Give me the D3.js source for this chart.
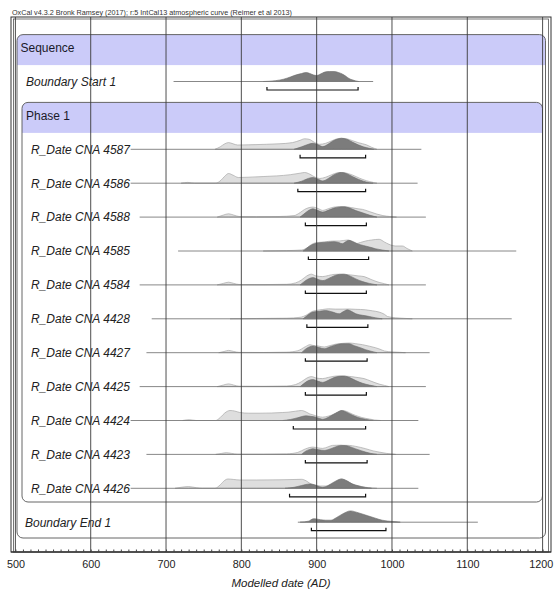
<!DOCTYPE html>
<html>
<head>
<meta charset="utf-8">
<script src="https://cdn.jsdelivr.net/npm/d3@7"></script>
<style>
  body { margin: 0; background: #fff; }
  svg { display: block; font-family: "Liberation Sans", Arial, Helvetica, sans-serif; }
</style>
</head>
<body>
<div id="chart"></div>
<script>
// rows of the OxCal multiplot, top to bottom
var rows = ["Sequence", "Boundary Start 1", "Phase 1",
    "R_Date CNA 4587", "R_Date CNA 4586", "R_Date CNA 4588", "R_Date CNA 4585",
    "R_Date CNA 4584", "R_Date CNA 4428", "R_Date CNA 4427", "R_Date CNA 4425",
    "R_Date CNA 4424", "R_Date CNA 4423", "R_Date CNA 4426", "Boundary End 1"];
var headerRows = ["Sequence", "Phase 1"];

// rows that carry a distribution
var distRows = ["Boundary Start 1", "R_Date CNA 4587", "R_Date CNA 4586", "R_Date CNA 4588",
    "R_Date CNA 4585", "R_Date CNA 4584", "R_Date CNA 4428", "R_Date CNA 4427",
    "R_Date CNA 4425", "R_Date CNA 4424", "R_Date CNA 4423", "R_Date CNA 4426", "Boundary End 1"];
var lineFrom = [710, 653, 653, 665, 716, 665, 681, 674, 665, 653, 674, 653, 875];
var lineTo   = [975, 1039, 1034, 1045, 1165, 1045, 1159, 1050, 1045, 1035, 1050, 1035, 1114];
var rangeFrom = [834, 878, 875, 885, 889, 885, 887, 885, 885, 869, 885, 864, 893];
var rangeTo   = [955, 965, 965, 966, 969, 966, 968, 967, 966, 965, 967, 965, 992];

// unmodelled (light) likelihoods, [year, density]
var unmodelled = [
  null,
  [[765,0],[772,2.5],[778,5.5],[783,6.7],[789,5.5],[795,4.3],[810,4.5],[833,5],[850,5.5],[868,6.7],[878,9],[884,10.5],[890,10],[897,7],[904,5],[912,6],[920,8.5],[927,10.5],[933,11],[940,10.5],[948,8.5],[956,6.5],[966,4.5],[973,2],[980,0]],
  [[720,0],[729,0.8],[738,0],[766,0],[773,3],[778,7],[783,9.7],[789,8],[796,5.7],[810,6],[830,6.7],[847,7.3],[865,8.5],[878,10],[884,10.7],[891,9],[898,6],[904,4.7],[912,6],[920,8.5],[927,10.3],[933,10.7],[940,10],[948,8],[957,5],[966,2.5],[975,0.8],[980,0]],
  [[768,0],[776,2],[783,3.3],[790,2],[797,0.6],[820,0.4],[850,0.6],[870,1.5],[878,4.5],[884,7.7],[890,9.5],[895,10],[902,8.5],[908,6.7],[916,8.5],[923,10],[930,10.3],[938,10.3],[946,9.5],[955,8.3],[961,7.7],[970,5.5],[980,3],[988,1.5],[997,0.6],[1006,0]],
  [[829,0],[860,0.4],[880,1],[887,3],[893,6.5],[899,8.3],[910,9],[921,10],[930,10],[941,11],[947,9],[952,7.3],[958,8.5],[965,10],[973,11],[983,11.7],[990,9],[996,6.7],[1005,5],[1014,5],[1020,2.5],[1027,0]],
  [[768,0],[776,1.5],[783,2.7],[790,1.5],[797,0.4],[830,0.3],[860,0.6],[872,2],[880,5],[887,9],[893,10.7],[899,9],[908,8.3],[916,9.5],[923,10.5],[930,10.7],[938,10.5],[945,10],[955,9],[963,8.3],[972,5.5],[983,2.5],[990,1.2],[996,0]],
  [[785,0],[820,0.3],[860,0.6],[878,1.5],[887,4],[893,7],[899,8.3],[908,9.3],[916,10],[925,9.7],[934,9.7],[943,9.8],[952,9.5],[965,9],[974,8],[983,6.7],[990,4.5],[994,2.3],[1005,1],[1015,0.5],[1027,0]],
  [[770,0],[777,1.2],[783,2.3],[790,1.2],[797,0.3],[830,0.2],[860,0.5],[875,2],[885,6],[891,8],[895,7.3],[902,6.7],[910,5.7],[917,7],[925,8.5],[934,9.3],[943,9.7],[952,9],[961,8],[970,6.5],[978,5],[984,3.5],[990,1.7],[1000,0.8],[1010,0.4],[1018,0]],
  [[768,0],[776,1.5],[783,2.7],[790,1.5],[797,0.4],[830,0.3],[860,0.6],[872,2],[880,5],[887,8.5],[893,10],[900,8.5],[908,8],[916,9.3],[923,10.3],[930,10.7],[938,10.5],[946,10],[955,9],[963,8],[972,5.5],[983,2.5],[990,1.2],[996,0]],
  [[722,0],[731,0.8],[740,0],[766,0],[772,3],[778,7.5],[785,10],[791,9.5],[798,8],[810,7.3],[825,7.3],[840,7.5],[855,8],[862,8.3],[872,9.3],[880,10],[886,8.5],[891,6.5],[895,5.7],[902,4],[908,3.3],[916,4.5],[925,7],[930,9],[934,10],[940,9],[947,6.5],[952,5],[960,3],[970,1.5],[977,0.5],[985,0]],
  [[766,0],[774,1],[780,1.7],[787,1],[795,0.2],[830,0.2],[860,0.5],[875,2],[885,5.5],[895,7.3],[902,6.5],[908,6],[915,7.5],[921,9],[930,9.2],[943,9],[952,8],[965,5.7],[975,3.5],[983,2.3],[993,1],[1005,0]],
  [[712,0],[720,1],[730,1.7],[741,0.5],[748,0],[765,0],[772,3.5],[778,8],[782,9.3],[790,8.8],[798,8.3],[820,8.3],[850,8.5],[870,8.8],[880,9],[886,7.5],[891,5],[897,3.3],[905,2.3],[912,2.3],[920,5],[927,8],[932,9.3],[940,7.5],[947,4.3],[955,2.5],[965,1],[973,0.3],[980,0]],
  null
];

// modelled (dark) posteriors, [year, density]
var modelled = [
  [[829,0],[845,0.8],[856,2.3],[865,4.5],[873,6.7],[880,8],[886,9],[891,8],[896,6.5],[900,6],[905,7.5],[911,9.5],[917,10],[923,10],[929,9],[934,7.5],[938,5.7],[943,3],[947,1.7],[952,0.6],[956,0]],
  [[870,0],[880,2.5],[889,5],[895,6],[902,4.5],[908,2.7],[915,5],[922,8.5],[929,10.5],[933,11],[940,10],[948,7],[955,4.5],[962,2.5],[970,1],[976,0]],
  [[870,0],[880,2],[889,4.8],[895,5.7],[902,4],[908,2.3],[915,4.5],[922,8],[929,10.3],[933,10.7],[940,9.5],[948,6.5],[955,4],[962,2],[970,0.5],[975,0]],
  [[878,0],[883,3],[889,6.5],[895,8.3],[902,6.5],[908,5],[916,7],[923,9],[930,10.2],[936,10.3],[944,9],[952,6.5],[961,4.3],[970,2],[980,0]],
  [[882,0],[887,3],[895,6.7],[904,8.3],[913,8.8],[923,9.3],[929,8.5],[934,7.3],[938,9],[943,10.7],[948,9.5],[954,7.3],[962,5.5],[970,4],[978,2.3],[987,1],[996,0]],
  [[878,0],[883,3],[889,6],[895,7.3],[902,5.5],[908,4.3],[916,6.5],[923,9],[930,10.5],[936,10.7],[944,9],[952,6],[961,3.3],[970,1.5],[980,0]],
  [[882,0],[887,3],[895,6.7],[904,7.5],[912,8.3],[920,7],[930,5],[935,7],[941,9],[946,7.5],[952,5],[961,3.5],[970,2.3],[978,1],[987,0]],
  [[880,0],[885,3.5],[891,6],[895,6.7],[903,5.2],[910,4],[918,6],[926,8],[934,9],[943,9],[950,7],[958,5],[965,3],[972,1.5],[980,0]],
  [[878,0],[883,3],[889,6],[895,7],[902,5.3],[908,4.2],[916,6.5],[923,9],[930,10.3],[936,10.5],[944,9],[952,6],[961,3.3],[970,1.5],[980,0]],
  [[855,0],[865,1],[875,2.8],[886,4.7],[892,4.2],[899,3.3],[904,2],[908,1.3],[915,3],[922,6],[928,8.5],[933,10],[939,8.5],[947,5.5],[955,3],[965,1.2],[975,0]],
  [[880,0],[886,3.5],[891,5],[895,5.7],[903,4.6],[910,4],[918,5.5],[925,7.5],[932,9],[938,8.8],[943,8],[952,5.5],[960,3.5],[965,2.3],[972,1],[980,0]],
  [[858,0],[870,1],[880,2.8],[891,4.3],[899,3],[904,1.5],[908,1],[915,2.5],[922,5.5],[928,8],[933,9.3],[940,7.5],[947,4.5],[955,2.5],[965,0.8],[973,0]],
  [[878,0],[889,1],[896,3.5],[905,2.5],[912,2],[919,2],[926,4.5],[935,8.5],[945,11.3],[955,9.5],[968,6.4],[978,4],[987,2],[1001,0.7],[1011,0]]
];

var xTicks = d3.range(500, 1201, 100);
var minorTicks = d3.range(500, 1201, 10);
var titleText = "OxCal v4.3.2 Bronk Ramsey (2017); r:5 IntCal13 atmospheric curve (Reimer et al 2013)";
var axisTitle = "Modelled date (AD)";

function init() {
    var w = 555, h = 592;
    var frameL = 11, frameR = 551, frameT = 17, axisY = 552;

    var svg = d3.select("#chart").append("svg")
        .attr("width", w).attr("height", h);

    var x = d3.scaleLinear().domain([500, 1200]).range([15.4, 542.6]);
    var y = d3.scalePoint().domain(rows).range([47.6, 522.2]);
    var dens = d3.scaleLinear().domain([0, 12]).range([0, 12]);

    // header text
    svg.append("text")
        .attr("x", 12).attr("y", 14.5)
        .attr("font-size", 6.6).attr("fill", "#333")
        .attr("textLength", 280).attr("lengthAdjust", "spacingAndGlyphs")
        .text(titleText);

    // outer frame (double line)
    svg.append("rect").attr("x", frameL).attr("y", frameT)
        .attr("width", frameR - frameL).attr("height", axisY - frameT)
        .attr("fill", "#fff").attr("stroke", "#333").attr("stroke-width", 1);
    svg.append("rect").attr("x", frameL + 2.5).attr("y", frameT + 2)
        .attr("width", frameR - frameL - 5).attr("height", axisY - frameT - 2)
        .attr("fill", "none").attr("stroke", "#555").attr("stroke-width", 0.8);

    // group boxes (Sequence, Phase)
    var boxes = [
        { name: "Sequence", x0: 17, x1: 545.5, y1: 538 },
        { name: "Phase 1", x0: 22, x1: 542.5, y1: 502 }
    ];
    boxes.forEach(function(b, i) {
        var top = y(b.name) - 13;
        var id = "clipbox" + i;
        svg.append("clipPath").attr("id", id).append("rect")
            .attr("x", b.x0).attr("y", top).attr("width", b.x1 - b.x0)
            .attr("height", b.y1 - top).attr("rx", 6);
        svg.append("rect")
            .attr("x", b.x0).attr("y", top).attr("width", b.x1 - b.x0)
            .attr("height", b.y1 - top).attr("rx", 6)
            .attr("fill", "#fff");
        svg.append("rect")
            .attr("clip-path", "url(#" + id + ")")
            .attr("x", b.x0).attr("y", top).attr("width", b.x1 - b.x0)
            .attr("height", 30.5)
            .attr("fill", "#cbcbf9");
        svg.append("rect")
            .attr("x", b.x0).attr("y", top).attr("width", b.x1 - b.x0)
            .attr("height", b.y1 - top).attr("rx", 6)
            .attr("fill", "none").attr("stroke", "#555").attr("stroke-width", 0.9);
    });

    // header labels
    svg.selectAll(".hdr").data(headerRows).enter().append("text")
        .attr("class", "hdr")
        .attr("x", function(d) { return d == "Sequence" ? 20.5 : 26; })
        .attr("y", function(d) { return y(d) + 4.5; })
        .attr("font-size", 12).attr("fill", "#1a1a2a")
        .text(function(d) { return d; });

    // row labels
    svg.selectAll(".lbl").data(distRows).enter().append("text")
        .attr("class", "lbl")
        .attr("x", function(d) {
            if (d == "Boundary Start 1") return 26;
            if (d == "Boundary End 1") return 25;
            return 31;
        })
        .attr("y", function(d) { return y(d) + 4.3; })
        .attr("font-size", 12).attr("font-style", "italic").attr("fill", "#222")
        .text(function(d) { return d; });

    var area = d3.area()
        .curve(d3.curveMonotoneX)
        .x(function(d) { return x(d[0]); })
        .y0(0)
        .y1(function(d) { return -dens(d[1]); });

    var g = svg.selectAll(".dist").data(distRows).enter().append("g")
        .attr("class", "dist")
        .attr("transform", function(d) { return "translate(0," + y(d) + ")"; });

    // light unmodelled distributions
    g.filter(function(d, i) { return unmodelled[i]; })
        .append("path")
        .attr("d", function(d) { return area(unmodelled[distRows.indexOf(d)]); })
        .attr("fill", "#dedede").attr("stroke", "#a8a8a8").attr("stroke-width", 0.7);

    // dark modelled distributions
    g.append("path")
        .attr("d", function(d, i) { return area(modelled[i]); })
        .attr("fill", "#7c7c7c").attr("stroke", "#6a6a6a").attr("stroke-width", 0.6);

    // baseline range line
    g.append("line")
        .attr("x1", function(d, i) { return x(lineFrom[i]); })
        .attr("x2", function(d, i) { return x(lineTo[i]); })
        .attr("y1", 0).attr("y2", 0)
        .attr("stroke", "#7a7a7a").attr("stroke-width", 0.9);

    // 95.4% range brackets
    g.append("path")
        .attr("d", function(d, i) {
            var a = x(rangeFrom[i]), b = x(rangeTo[i]);
            return "M" + a + ",5.5V8.5H" + b + "V5.5";
        })
        .attr("fill", "none").attr("stroke", "#111").attr("stroke-width", 1.2);

    // vertical grid lines over everything
    svg.selectAll(".grid").data(xTicks).enter().append("line")
        .attr("class", "grid")
        .attr("x1", function(d) { return x(d); }).attr("x2", function(d) { return x(d); })
        .attr("y1", frameT).attr("y2", axisY)
        .attr("stroke", "#3a3a3a").attr("stroke-width", 0.9);

    // axis
    svg.append("line")
        .attr("x1", frameL).attr("x2", frameR).attr("y1", axisY).attr("y2", axisY)
        .attr("stroke", "#222").attr("stroke-width", 1.2);

    var minorAxis = d3.axisBottom(x).tickValues(minorTicks).tickSize(-2.5).tickFormat("");
    svg.append("g").attr("transform", "translate(0," + axisY + ")")
        .call(minorAxis)
        .call(function(s) { s.select(".domain").remove(); s.selectAll("line").attr("stroke", "#444"); });

    var xAxis = d3.axisBottom(x).tickValues(xTicks).tickSize(0).tickPadding(8)
        .tickFormat(d3.format("d"));
    svg.append("g").attr("transform", "translate(0," + axisY + ")")
        .call(xAxis)
        .call(function(s) {
            s.select(".domain").remove();
            s.selectAll("text").attr("font-size", 10.8).attr("fill", "#222")
                .attr("font-family", "Liberation Sans, Arial, sans-serif")
                .attr("dx", function(d) { return d == 1200 ? -1.8 : 0; });
        });

    svg.append("text")
        .attr("x", 281).attr("y", 587)
        .attr("text-anchor", "middle")
        .attr("font-size", 11.5).attr("font-style", "italic").attr("fill", "#222")
        .text(axisTitle);
}
window.onload = init;
</script>
</body>
</html>
